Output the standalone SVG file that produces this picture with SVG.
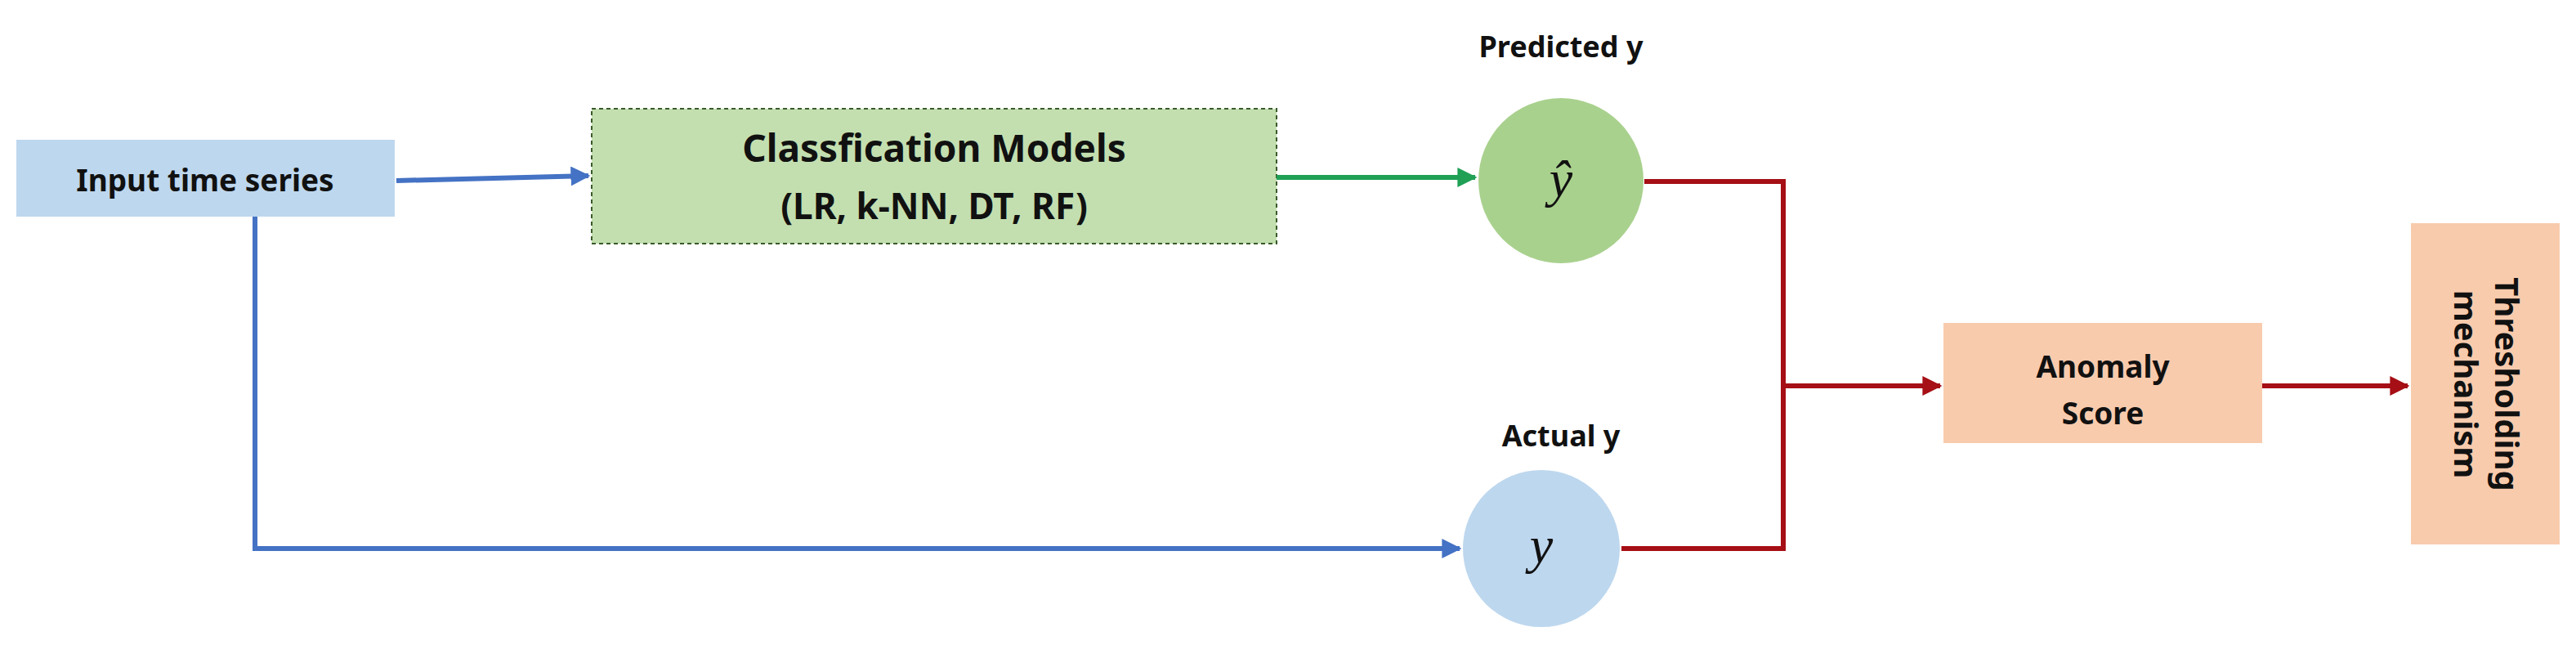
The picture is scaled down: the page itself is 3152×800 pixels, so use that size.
<svg xmlns="http://www.w3.org/2000/svg" width="3152" height="800" viewBox="0 0 3152 800">
<style>
text{font-family:"Noto Sans","Liberation Sans",sans-serif;font-weight:bold;fill:#111;text-anchor:middle}
.m{font-family:"Liberation Serif",serif;font-style:italic;font-weight:normal;font-size:64px}
.c{fill:none;stroke-width:6}
</style>
<defs>
<marker id="ab" viewBox="0 0 10 10" refX="9" refY="5" markerWidth="4" markerHeight="4" orient="auto"><path d="M0,0L10,5L0,10z" fill="#4472C4"/></marker>
<marker id="ag" viewBox="0 0 10 10" refX="9" refY="5" markerWidth="4" markerHeight="4" orient="auto"><path d="M0,0L10,5L0,10z" fill="#1FA055"/></marker>
<marker id="ar" viewBox="0 0 10 10" refX="9" refY="5" markerWidth="4" markerHeight="4" orient="auto"><path d="M0,0L10,5L0,10z" fill="#A50F15"/></marker>
</defs>
<g id="input"><rect x="20" y="171" width="463" height="94" fill="#BDD7EE"/><text x="251" y="234" font-size="37">Input time series</text></g>
<g id="models"><rect x="724" y="133" width="838" height="165" fill="#A9D18E" fill-opacity="0.7" stroke="#3A5A2A" stroke-width="2" stroke-dasharray="5,4"/><text x="1143" y="198" font-size="46">Classfication Models</text><text x="1143" y="268" font-size="44">(LR, k-NN, DT, RF)</text></g>
<g id="pred"><circle cx="1910" cy="221" r="101" fill="#A9D18E"/><text class="m" x="1910" y="240">ŷ</text><text x="1910" y="70" font-size="36">Predicted y</text></g>
<g id="actual"><circle cx="1886" cy="671" r="96" fill="#BDD7EE"/><text class="m" x="1886" y="688">y</text><text x="1910" y="546" font-size="36">Actual y</text></g>
<g id="anomaly"><rect x="2378" y="395" width="390" height="147" fill="#F8CBAD"/><text x="2573" y="462" font-size="37">Anomaly</text><text x="2573" y="519" font-size="37">Score</text></g>
<g id="thresh"><rect x="2950" y="273" width="182" height="393" fill="#F8CBAD"/><g transform="translate(3041,470) rotate(90)"><text x="0" y="-12" font-size="40">Thresholding</text><text x="0" y="38" font-size="40">mechanism</text></g></g>
<g id="connectors">
<path class="c" stroke="#4472C4" d="M485,221L720,215" marker-end="url(#ab)"/>
<path class="c" stroke="#4472C4" stroke-width="5" d="M312,265V671H1786" marker-end="url(#ab)"/>
<path class="c" stroke="#1FA055" d="M1562,217H1805" marker-end="url(#ag)"/>
<path class="c" stroke="#A50F15" d="M2012,222H2182V671H1984"/>
<path class="c" stroke="#A50F15" d="M2182,472H2374" marker-end="url(#ar)"/>
<path class="c" stroke="#A50F15" d="M2768,472H2946" marker-end="url(#ar)"/>
</g>
</svg>
